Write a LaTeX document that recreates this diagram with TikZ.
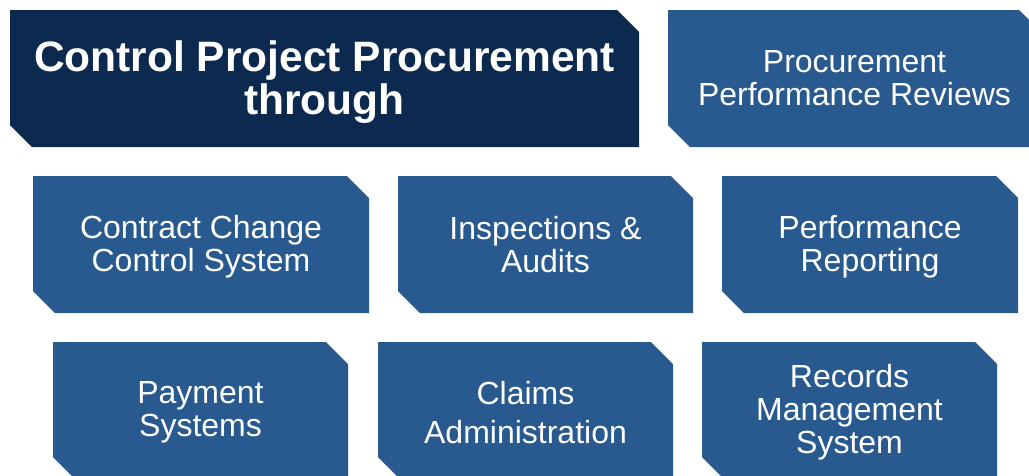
\documentclass[tikz,border=0pt]{standalone}
\usepackage{fontspec}
\setmainfont{Liberation Sans}
\definecolor{navy}{RGB}{12,41,79}
\definecolor{midblue}{RGB}{40,89,143}
\newcommand\cutshape[5]{%
  \fill[#5] (#1,#2) -- (#3-22,#2) -- (#3,#2+22) -- (#3,#4) -- (#1+22,#4) -- (#1,#4-22) -- cycle;}
\begin{document}
\begin{tikzpicture}[x=1pt,y=-1pt,
  boxtext/.style={text=white,align=center,inner sep=0pt,font=\fontsize{32}{33}\selectfont},
  titletext/.style={text=white,align=center,inner sep=0pt,font=\fontsize{42.5}{43}\selectfont\bfseries}]
\useasboundingbox (0,0) rectangle (1029,475);
% top row
\cutshape{10}{10}{639}{147}{navy}
\node[titletext] (title) at (324.5,82) {Control Project Procurement\\through};
\cutshape{668}{10}{1041}{147}{midblue}
\node[boxtext] (reviews) at (854.5,78.5) {Procurement\\Performance Reviews};
% middle row
\cutshape{33}{176}{369}{313}{midblue}
\node[boxtext] (change) at (201,246.5) {Contract Change\\Control System};
\cutshape{398}{176}{693}{313}{midblue}
\node[boxtext] (inspect) at (545.5,244.5) {Inspections \&\\Audits};
\cutshape{722}{176}{1018}{313}{midblue}
\node[boxtext] (perf) at (870,246.5) {Performance\\Reporting};
% bottom row
\cutshape{53}{342}{348}{479}{midblue}
\node[boxtext] (pay) at (200.5,412.5) {Payment\\Systems};
\cutshape{378}{342}{673}{479}{midblue}
\node[boxtext,font=\fontsize{32}{39}\selectfont] (claims) at (525.5,413) {Claims\\Administration};
\cutshape{702}{342}{997}{479}{midblue}
\node[boxtext] (records) at (849.5,412) {Records\\Management\\System};
\end{tikzpicture}
\end{document}
